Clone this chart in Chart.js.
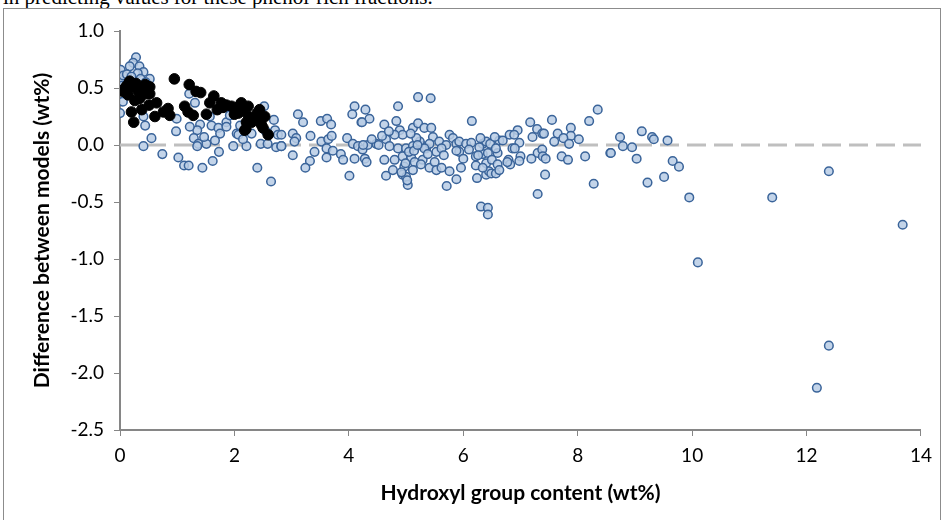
<!DOCTYPE html>
<html>
<head>
<meta charset="utf-8">
<script src="https://cdn.jsdelivr.net/npm/chart.js@4.4.0/dist/chart.umd.min.js"></script>
<style>
  body { margin: 0; background: #fff; width: 942px; height: 520px; overflow: hidden; position: relative; }
  #topText { position: absolute; left: 3px; top: -15px; font-family: "Liberation Serif", serif; font-size: 21px; color: #000; white-space: nowrap; }
  #box { position: absolute; left: 3px; top: 8px; width: 936px; height: 520px; border: 1px solid #8c8c8c; }
  canvas { display: block; }
</style>
</head>
<body>
<div id="topText">in predicting values for these phenol-rich fractions.</div>
<div id="box"><canvas id="scatterChart" width="936" height="511"></canvas></div>
<script>
// values
var blueX = [0.28, 0.23, 0.34, 0.17, 0.01, 0.41, 0.31, 0.52, 0.00, 0.06, 0.12, 0.20, 0.36, 0.45, 0.03, 0.10,
    1.21, 1.31, 0.05, 0.00, 0.41, 0.99, 0.44, 0.98, 0.55, 0.41, 0.74, 1.02, 1.12, 1.20, 1.44, 1.62, 1.73,
    1.57, 1.40, 1.35, 1.29, 1.37, 1.35, 1.51, 1.47, 1.60, 1.72, 1.75, 1.66, 1.86, 1.86, 1.98, 2.04, 1.92, 1.22,
    2.52, 2.69, 2.71, 2.76, 2.07, 2.21, 2.46, 2.58, 2.73, 2.82, 2.40, 2.64, 2.10, 2.30, 2.35, 2.15, 2.55,
    3.11, 3.20, 3.51, 3.62, 3.69, 3.02, 3.08, 3.05, 3.02, 3.33, 3.52, 3.64, 3.70, 3.40, 3.32, 3.24, 3.61, 3.61,
    3.72, 3.86, 3.90, 4.01, 4.10, 4.06, 4.22, 3.97, 4.07, 4.16, 4.10, 4.24, 2.82, 2.82,
    5.21, 5.43, 4.86, 4.29, 4.36, 4.23, 4.62, 4.83, 6.15, 5.12, 5.21, 5.32, 5.44, 4.89, 4.94, 4.80, 4.65,
    4.48, 4.33, 4.25, 4.52, 4.71, 4.86, 5.00, 5.12, 5.29, 5.35, 5.47, 5.58, 5.70, 5.76, 5.82, 5.88, 5.93,
    6.05, 6.14, 5.93, 5.88, 6.22, 6.34, 6.34, 6.40, 6.22, 6.40, 6.31,
    4.28, 4.31, 4.62, 4.65, 4.80, 4.77, 4.94, 4.97, 4.94, 5.00, 5.03, 5.09, 5.15, 5.12, 5.29, 5.26, 5.41,
    5.50, 5.53, 5.62, 5.76, 5.88, 5.71, 5.96, 5.53, 5.62, 5.41, 5.24, 5.32, 4.40, 4.58, 4.70, 5.05, 5.18,
    5.38, 5.66, 6.00, 6.10, 4.92, 5.02, 5.14, 4.99, 5.08, 5.20, 6.28, 6.26, 6.45, 6.24,
    8.35, 8.20, 7.55, 7.17, 6.95, 7.29, 7.38, 7.41, 7.21, 7.65, 7.88, 7.88, 7.75, 7.59, 7.85, 8.02, 6.81,
    6.89, 6.98, 6.86, 6.90, 6.63, 6.69, 6.40, 6.47, 7.30, 7.38, 7.39, 7.44, 7.19, 7.00, 6.98, 6.79, 6.82,
    6.77, 7.72, 7.83, 8.13, 8.57, 7.43, 7.30, 8.28, 6.43, 6.60, 6.50, 6.60, 6.34, 6.49, 6.57, 6.63, 6.57,
    6.43, 6.43, 6.30, 6.55,
    9.12, 8.74, 9.30, 9.33, 9.57, 8.79, 8.95, 8.58, 9.03, 9.66, 9.77, 9.51, 9.22, 9.95,
    10.10, 11.40, 12.39, 12.39, 12.18, 13.68];
var blueY = [0.77, 0.72, 0.69, 0.69, 0.66, 0.64, 0.63, 0.58, 0.57, 0.61, 0.62, 0.60, 0.58, 0.55, 0.52, 0.48,
    0.45, 0.37, 0.38, 0.28, 0.25, 0.23, 0.17, 0.12, 0.06, -0.01, -0.08, -0.11, -0.18, -0.18, -0.20, -0.14, -0.06,
    0.25, 0.18, 0.13, 0.06, 0.01, -0.01, 0.01, 0.07, 0.17, 0.15, 0.10, 0.04, 0.20, 0.16, -0.01, 0.10, 0.26, 0.16,
    0.34, 0.22, 0.13, 0.09, 0.09, -0.01, 0.01, 0.01, -0.02, -0.01, -0.20, -0.32, 0.17, 0.10, 0.22, 0.05, 0.12,
    0.27, 0.20, 0.21, 0.23, 0.18, 0.10, 0.06, 0.03, -0.09, 0.08, 0.03, 0.05, 0.08, -0.06, -0.14, -0.20, -0.03, -0.11,
    -0.05, -0.08, -0.13, -0.27, 0.34, 0.27, 0.20, 0.06, 0.01, -0.01, -0.12, -0.04, 0.09, -0.01,
    0.42, 0.41, 0.34, 0.31, 0.23, 0.20, 0.18, 0.21, 0.21, 0.15, 0.19, 0.15, 0.15, 0.13, 0.09, 0.09, 0.05,
    0.01, 0.00, 0.00, 0.00, -0.01, -0.03, -0.03, -0.01, -0.01, -0.03, 0.07, 0.03, 0.00, 0.09, 0.06, 0.01, 0.03,
    0.01, 0.02, -0.06, -0.05, -0.10, 0.01, -0.08, -0.16, -0.18, -0.26, -0.54,
    -0.12, -0.15, -0.13, -0.27, -0.13, -0.22, -0.10, -0.19, -0.26, -0.28, -0.35, -0.11, -0.15, -0.22, -0.13, -0.17, -0.20,
    -0.15, -0.22, -0.20, -0.23, -0.30, -0.36, -0.20, -0.06, -0.03, 0.01, 0.03, -0.03, 0.05, 0.08, 0.12, -0.06, 0.06,
    -0.08, -0.09, -0.12, -0.04, -0.24, -0.31, -0.05, -0.16, 0.10, 0.00, -0.02, -0.09, -0.23, -0.29,
    0.31, 0.21, 0.22, 0.20, 0.13, 0.14, 0.10, 0.10, 0.07, 0.10, 0.15, 0.08, 0.06, 0.03, 0.01, 0.05, 0.09,
    0.09, 0.02, -0.03, -0.03, 0.04, 0.04, 0.03, 0.01, -0.07, -0.04, -0.10, -0.12, -0.12, -0.10, -0.14, -0.13, -0.17,
    -0.15, -0.10, -0.13, -0.10, -0.07, -0.26, -0.43, -0.34, -0.07, -0.07, -0.13, -0.17, -0.20, -0.25, -0.25, -0.22, -0.03,
    -0.55, -0.61, 0.06, 0.07,
    0.12, 0.07, 0.07, 0.05, 0.04, -0.01, -0.02, -0.07, -0.12, -0.14, -0.19, -0.28, -0.33, -0.46,
    -1.03, -0.46, -0.23, -1.76, -2.13, -0.70];

var blackX = [0.95, 1.21, 1.33, 1.41, 0.17, 0.09, 0.06, 0.23, 0.32, 0.44, 0.52, 0.47, 0.26, 0.35, 0.52, 0.64,
    0.51, 0.20, 0.24, 0.38, 0.61, 0.76, 0.84, 0.87, 1.13, 1.19, 1.28, 1.51, 1.57, 1.64, 1.77, 1.86, 1.95, 2.04,
    2.12, 2.24, 2.07, 2.21, 2.18, 2.44, 2.53, 2.47, 2.42, 2.59, 2.10, 2.15, 2.25, 2.30, 2.40, 2.45, 2.50, 2.20,
    0.12, 0.28, 0.14, 0.40, 1.80, 2.00, 2.35, 1.70];
var blackY = [0.58, 0.53, 0.47, 0.46, 0.56, 0.50, 0.47, 0.51, 0.47, 0.53, 0.51, 0.45, 0.39, 0.41, 0.45, 0.37,
    0.35, 0.29, 0.20, 0.31, 0.25, 0.29, 0.32, 0.26, 0.34, 0.29, 0.26, 0.27, 0.37, 0.43, 0.37, 0.35, 0.34, 0.29,
    0.37, 0.34, 0.28, 0.20, 0.13, 0.31, 0.25, 0.18, 0.22, 0.09, 0.35, 0.30, 0.25, 0.20, 0.28, 0.20, 0.15, 0.14,
    0.52, 0.54, 0.44, 0.49, 0.33, 0.27, 0.24, 0.31];

var zeroX = [0, 14];
var zeroY = [0, 0];
var xTicks = [0, 2, 4, 6, 8, 10, 12, 14];
var yTicks = [-2.5, -2.0, -1.5, -1.0, -0.5, 0.0, 0.5, 1.0];

function toPoints(xs, ys) {
    var pts = [];
    for (var i = 0; i < xs.length; i++) pts.push({ x: xs[i], y: ys[i] });
    return pts;
}

var axisColor = '#868686';
var tickFont = { family: 'Lato, "Liberation Sans", sans-serif', size: 19 };
var titleFont = { family: 'Lato, "Liberation Sans", sans-serif', size: 21, weight: 'bold' };

var ctx = document.getElementById('scatterChart').getContext('2d');
new Chart(ctx, {
    type: 'scatter',
    data: {
        datasets: [
            {
                label: 'zero',
                data: toPoints(zeroX, zeroY),
                showLine: true,
                borderColor: '#bfbfbf',
                borderWidth: 3,
                borderDash: [19, 8],
                pointRadius: 0,
                order: 3
            },
            {
                label: 'All fractions',
                data: toPoints(blueX, blueY),
                backgroundColor: 'rgba(185,205,229,0.85)',
                borderColor: '#3a649a',
                borderWidth: 1.5,
                pointRadius: 4.3,
                order: 2
            },
            {
                label: 'Phenol-rich fractions',
                data: toPoints(blackX, blackY),
                backgroundColor: '#000',
                borderColor: '#000',
                borderWidth: 1,
                pointRadius: 5.3,
                order: 1
            }
        ]
    },
    options: {
        responsive: false,
        animation: false,
        layout: { padding: { top: 22, right: 18, left: 0, bottom: 0 } },
        plugins: { legend: { display: false }, tooltip: { enabled: false } },
        scales: {
            x: {
                type: 'linear',
                min: 0, max: 14,
                afterBuildTicks: function (scale) { scale.ticks = xTicks.map(function (v) { return { value: v }; }); },
                afterFit: function (scale) { scale.height = 90; },
                ticks: { color: '#000', font: tickFont, padding: 8, callback: function (v) { return v; } },
                grid: { display: true, drawOnChartArea: false, drawTicks: true, tickLength: 6, color: axisColor, lineWidth: 1 },
                border: { display: true, color: axisColor, width: 2 },
                title: { display: true, text: 'Hydroxyl group content (wt%)', color: '#000', font: titleFont, padding: { top: 0, bottom: 14 } }
            },
            y: {
                type: 'linear',
                min: -2.5, max: 1.0,
                afterBuildTicks: function (scale) { scale.ticks = yTicks.map(function (v) { return { value: v }; }); },
                afterFit: function (scale) { scale.width = 116; },
                ticks: { color: '#000', font: tickFont, padding: 10, callback: function (v) { return v.toFixed(1); } },
                grid: { display: true, drawOnChartArea: false, drawTicks: true, tickLength: 6, color: axisColor, lineWidth: 1 },
                border: { display: true, color: axisColor, width: 2 },
                title: { display: true, text: 'Difference between models (wt%)', color: '#000', font: titleFont, padding: { top: 26, bottom: 0 } }
            }
        }
    }
});
</script>
</body>
</html>
